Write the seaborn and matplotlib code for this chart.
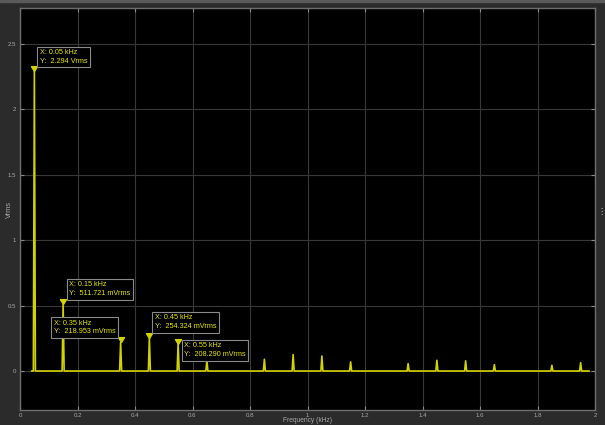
import numpy as np
import pandas as pd
import seaborn as sns
import matplotlib
matplotlib.use("Agg")
import matplotlib.pyplot as plt
from matplotlib.patches import Rectangle

# ---- data ----
freqs_khz = [0.05, 0.15, 0.35, 0.45, 0.55, 0.65, 0.85, 0.95, 1.05, 1.15,
             1.35, 1.45, 1.55, 1.65, 1.85, 1.95]
amps_vrms = [2.294, 0.511721, 0.218953, 0.254324, 0.208290, 0.08, 0.09, 0.125,
             0.115, 0.07, 0.057, 0.082, 0.078, 0.049, 0.044, 0.064]
span_khz = [0.04, 1.98]
tip_freqs = [0.05, 0.15, 0.35, 0.45, 0.55]
tip_labels = ["X: 0.05 kHz\nY:  2.294 Vrms",
              "X: 0.15 kHz\nY:  511.721 mVrms",
              "X: 0.35 kHz\nY:  218.953 mVrms",
              "X: 0.45 kHz\nY:  254.324 mVrms",
              "X: 0.55 kHz\nY:  208.290 mVrms"]
xticks = [0, 0.2, 0.4, 0.6, 0.8, 1.0, 1.2, 1.4, 1.6, 1.8, 2.0]
xticklabels = ["0", "0.2", "0.4", "0.6", "0.8", "1", "1.2", "1.4", "1.6", "1.8", "2"]
yticks = [0, 0.5, 1.0, 1.5, 2.0, 2.5]
yticklabels = ["0", "0.5", "1", "1.5", "2", "2.5"]

# ---- build spectrum trace (narrow triangular peaks on a zero baseline) ----
half_w = 0.0035
xs, ys = [span_khz[0]], [0.0]
for f, a in zip(freqs_khz, amps_vrms):
    xs += [f - half_w, f, f + half_w]
    ys += [0.0, a, 0.0]
xs.append(span_khz[1]); ys.append(0.0)
spec = pd.DataFrame({"Frequency (kHz)": xs, "Vrms": ys})

sns.set_theme(style="dark")
plt.rcParams["font.family"] = ["Liberation Sans", "DejaVu Sans"]

FIG_BG = "#2b2b2b"
YEL = "#d2d200"
TXT_Y = "#e6e600"
GRID = "#383838"
SPINE = "#6e6e6e"
TICKC = "#a8a8a8"

fig = plt.figure(figsize=(6.05, 4.25), dpi=100, facecolor=FIG_BG)
ax = fig.add_axes([20 / 605, 15 / 425, 575 / 605, 402 / 425])
ax.set_facecolor("black")

sns.lineplot(data=spec, x="Frequency (kHz)", y="Vrms", ax=ax, color=YEL,
             linewidth=1.2, estimator=None, sort=False)

ax.set_xlim(0, 2)
ax.set_ylim(-0.298, 2.775)
ax.set_xticks(xticks)
ax.set_xticklabels(xticklabels)
ax.set_yticks(yticks)
ax.set_yticklabels(yticklabels)
ax.grid(True, color=GRID, linewidth=0.8)
for s in ax.spines.values():
    s.set_color(SPINE)
    s.set_linewidth(1.0)
    s.set_visible(True)
ax.tick_params(direction="in", length=3, width=0.8, color="#888888",
               labelcolor=TICKC, labelsize=4.4, top=True, right=True,
               bottom=True, left=True, pad=3)
ax.tick_params(axis="x", pad=2)
ax.set_xlabel("Frequency (kHz)", color=TICKC, fontsize=4.8)
ax.set_ylabel("Vrms", color=TICKC, fontsize=5.3)
ax.xaxis.set_label_coords(0.5, -14 / 402)
ax.xaxis.label.set_va("bottom")
ax.yaxis.set_label_coords(-11 / 575, 0.5)
ax.yaxis.label.set_va("center")

# data-tip markers (tip of triangle at the peak)
tri = [(0, 0), (-1, 1.6), (1, 1.6), (0, 0)]
amp_of = dict(zip(freqs_khz, amps_vrms))
for f in tip_freqs:
    ax.plot([f], [amp_of[f]], marker=tri, markersize=7, color=YEL,
            markeredgecolor=YEL, linestyle="none", zorder=5)

# data-tip boxes: (dx px, dy px, ha, va)
place = {0.05: (5.5, 6, "left", "bottom"),
         0.15: (6, 7, "left", "bottom"),
         0.35: (-5.5, 7, "right", "bottom"),
         0.45: (5.5, 7.5, "left", "bottom"),
         0.55: (6, 1.5, "left", "top")}
for f, lab in zip(tip_freqs, tip_labels):
    dx, dy, ha, va = place[f]
    ax.annotate(lab, xy=(f, amp_of[f]), xytext=(dx, dy),
                textcoords="offset pixels", ha=ha, va=va,
                multialignment="left",
                fontsize=5.2, color=TXT_Y, linespacing=1.35,
                bbox=dict(boxstyle="square,pad=0.35", fc="black",
                          ec="#8a8a8a", lw=0.8), zorder=6)

# top light strip and side grip
fig.patches.append(Rectangle((0, 1 - 2 / 425), 1, 2 / 425,
                             transform=fig.transFigure, color="#5a5a5a"))
fig.text(601 / 605, 1 - 212 / 425, "⋮", color="#cfcfcf", fontsize=6,
         ha="center", va="center", family="DejaVu Sans")

fig.savefig("out.png", dpi=100, facecolor=FIG_BG)
